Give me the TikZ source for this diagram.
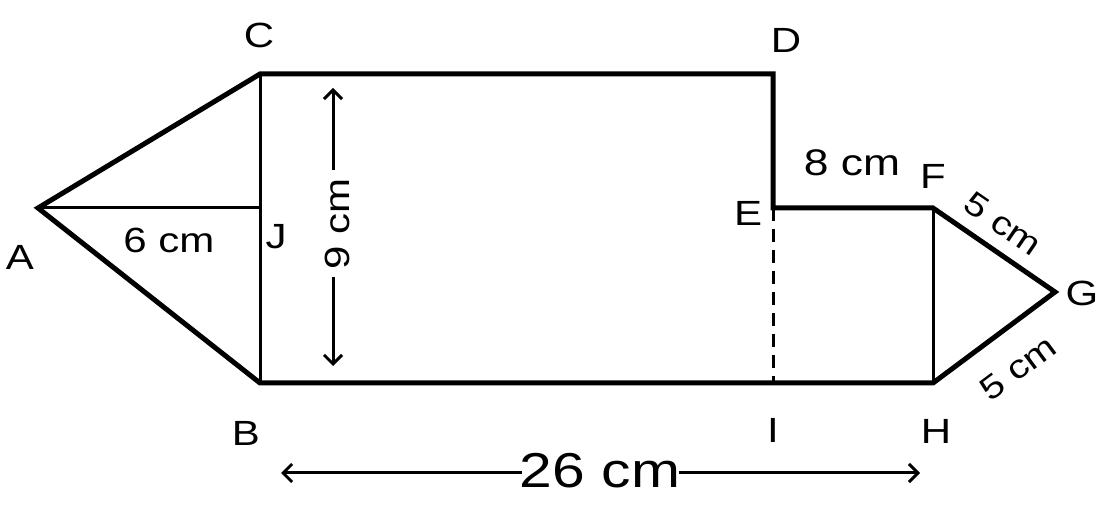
\documentclass[tikz,border=0pt]{standalone}
\usepackage{fontspec}
\setmainfont{Liberation Sans}[FakeStretch=1.2]
\usetikzlibrary{arrows.meta}
\begin{document}
\begin{tikzpicture}[x=1pt,y=-1pt,
  outline/.style={line width=5pt,line join=miter},
  inner/.style={line width=3pt},
  hidden/.style={line width=3pt,dash pattern=on 13pt off 8pt},
  dimline/.style={line width=3pt,-{Straight Barb[length=9pt,width=18pt,line width=3pt]}},
  lbl/.style={inner sep=0pt,font=\fontsize{35}{42}\selectfont},
  meas/.style={inner sep=0pt,font=\fontsize{35}{42}\selectfont}]
\useasboundingbox (0,0) rectangle (1109,510);
\coordinate (A) at (38,208);
\coordinate (C) at (260,74);
\coordinate (D) at (773,74);
\coordinate (E) at (773,208);
\coordinate (F) at (933,208);
\coordinate (G) at (1055,292);
\coordinate (H) at (933,383);
\coordinate (I) at (773,383);
\coordinate (B) at (260,383);
\coordinate (J) at (260,208);
% shape
\draw[outline] (A) -- (C) -- (D) -- (E) -- (F) -- (G) -- (H) -- (I) -- (B) -- cycle;
\draw[inner] (C) -- (B);
\draw[inner] (A) -- (J);
\draw[inner] (F) -- (H);
\draw[hidden] (E) -- (I);
% point labels
\node[lbl] (lA) at (20,257) {A};
\node[lbl] (lB) at (246,433) {B};
\node[lbl] (lC) at (259,35) {C};
\node[lbl] (lD) at (786,40) {D};
\node[lbl] (lE) at (748,213) {E};
\node[lbl] (lF) at (933,176) {F};
\node[lbl] (lG) at (1082,293) {G};
\node[lbl] (lH) at (936,431) {H};
\node[lbl] (lI) at (773,430) {I};
\node[lbl] (lJ) at (276,237) {J};
% measures
\node[meas] (m6) at (169,240) {6 cm};
\node[meas,font=\fontsize{37}{44}\selectfont] (m8) at (852,163) {8 cm};
\node[meas,font=\fontsize{33}{40}\selectfont,rotate=-34.5] (m5a) at (1003,224) {5 cm};
\node[meas,font=\fontsize{33}{40}\selectfont,rotate=36.7] (m5b) at (1018,368) {5 cm};
\node[meas,rotate=90] (m9) at (337,224) {9 cm};
\node[meas,font=\fontsize{49}{58}\selectfont] (m26) at (600,471) {26 cm};
\coordinate (t9) at (333,88);
\coordinate (g9t) at (333,170);
\coordinate (g9b) at (333,277);
\coordinate (b9) at (333,366);
\coordinate (l26) at (281,473);
\coordinate (g26l) at (522,473);
\coordinate (g26r) at (679,473);
\coordinate (r26) at (920,473);
\draw[dimline] (g9t) -- (t9);
\draw[dimline] (g9b) -- (b9);
\draw[dimline] (g26l) -- (l26);
\draw[dimline] (g26r) -- (r26);
\end{tikzpicture}
\end{document}
